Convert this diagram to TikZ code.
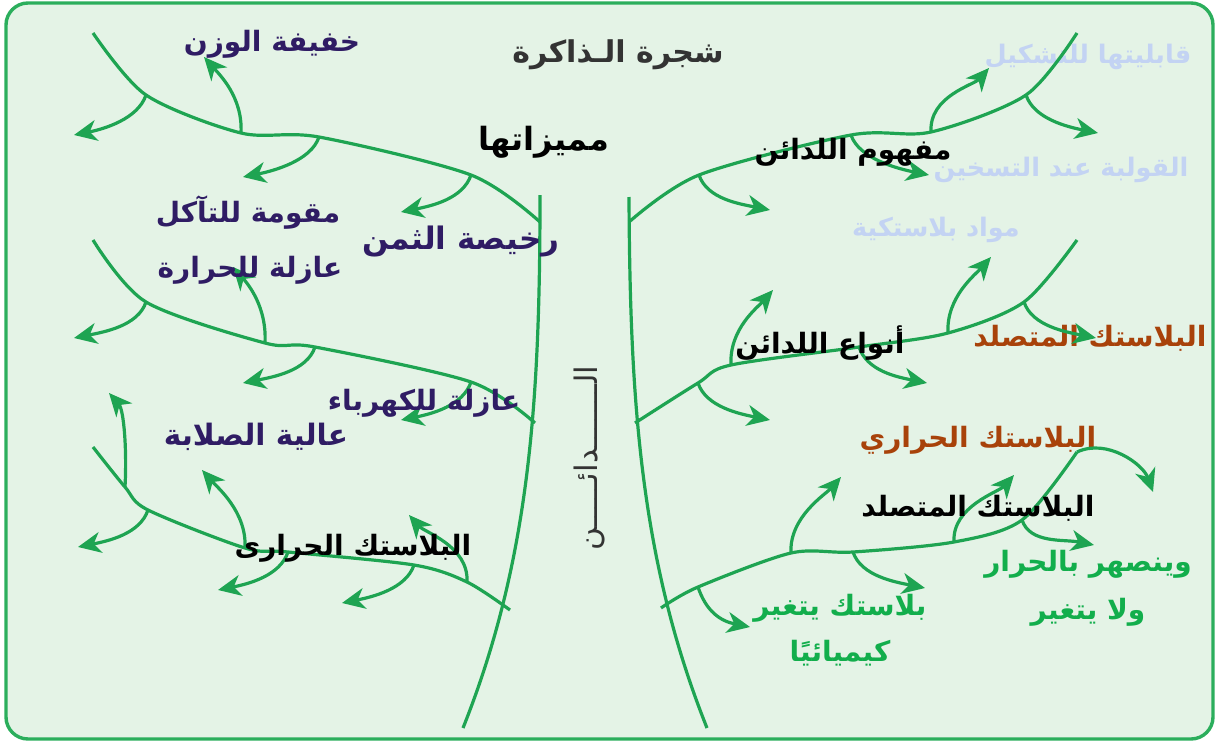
\documentclass[tikz,border=0pt]{standalone}
\usepackage{fontspec}
\newfontfamily\arabicfont[Script=Arabic]{DejaVu Sans}
\TeXXeTstate=1
\usetikzlibrary{arrows.meta}
\definecolor{bgfill}{HTML}{E4F3E6}
\definecolor{framegreen}{HTML}{2BAE5C}
\definecolor{treegreen}{HTML}{1EA452}
\definecolor{purp}{HTML}{2F1C64}
\definecolor{paleblue}{HTML}{C3D3F3}
\definecolor{brownish}{HTML}{A8420A}
\definecolor{leafgreen}{HTML}{12AE4C}
\definecolor{titlegrey}{HTML}{333333}
\newcommand{\ar}[1]{\beginR #1\endR}

\begin{document}
\begin{tikzpicture}[x=1pt,y=-1pt,
branch/.style={draw=treegreen,line width=3.2pt},
twig/.style={draw=treegreen,line width=3.2pt,-{Stealth[length=23pt,width=21pt,inset=7pt]}},
txt/.style={font=\arabicfont\bfseries\fontsize{28}{30}\selectfont,inner sep=0pt},
smalltxt/.style={txt,font=\arabicfont\bfseries\fontsize{25.5}{28}\selectfont},
trunktxt/.style={font=\arabicfont\fontsize{31}{33}\selectfont,inner sep=0pt,text=titlegrey,rotate=90}]

\useasboundingbox (0,0) rectangle (1219,742);
\path[fill=bgfill,draw=framegreen,line width=3.4pt,rounded corners=22pt] (6,3) rectangle (1213,739);

% texts under the tree
\node[smalltxt,text=paleblue] (shape) at (1088,57) {\ar{قابليتها للتشكيل}};
\node[smalltxt,text=paleblue] (mould) at (1061,170) {\ar{القولبة عند التسخين}};
\node[smalltxt,text=paleblue] (plast) at (936,230) {\ar{مواد بلاستكية}};
\node[txt,text=brownish] (setbr) at (1090,338) {\ar{البلاستك المتصلد}};
\node[txt,text=brownish] (thbr) at (978,440) {\ar{البلاستك الحراري}};
\node[txt,text=leafgreen] (melt) at (1088,564) {\ar{وينصهر بالحرار}};
\node[txt,text=leafgreen] (nochg) at (1088,612) {\ar{ولا يتغير}};
\node[txt,text=leafgreen] (chema) at (840,608) {\ar{بلاستك يتغير}};
\node[txt,text=leafgreen] (chemb) at (840,653) {\ar{كيميائيًا}};

% trunk
\coordinate (lt0) at (540,195); \coordinate (lt1) at (463,728);
\coordinate (rt0) at (629,197); \coordinate (rt1) at (707,728);
\draw[branch] (lt0) .. controls (540,400) and (530,560) .. (lt1);
\draw[branch] (rt0) .. controls (630,400) and (640,560) .. (rt1);

% branch points
\coordinate (a0) at (93,33);   \coordinate (a1) at (146,95);  \coordinate (a2) at (241,133);
\coordinate (a3) at (319,137); \coordinate (a4) at (471,175); \coordinate (a5) at (540,222);
\coordinate (b0) at (93,240);  \coordinate (b1) at (146,302); \coordinate (b2) at (265,343);
\coordinate (b3) at (315,347); \coordinate (b4) at (471,382); \coordinate (b5) at (535,423);
\coordinate (c0) at (93,447);  \coordinate (c1) at (125,487); \coordinate (c2) at (148,510);
\coordinate (c3) at (245,548); \coordinate (c4) at (288,552); \coordinate (c5) at (414,565);
\coordinate (c6) at (467,582); \coordinate (c7) at (510,610);
\coordinate (d0) at (629,222); \coordinate (d1) at (699,175); \coordinate (d2) at (851,135);
\coordinate (d3) at (931,132); \coordinate (d4) at (1026,95); \coordinate (d5) at (1077,33);
\coordinate (e0) at (635,423); \coordinate (e1) at (698,383); \coordinate (e2) at (731,365);
\coordinate (e3) at (859,347); \coordinate (e4) at (948,333); \coordinate (e5) at (1024,302);
\coordinate (e6) at (1077,240);
\coordinate (f0) at (661,608); \coordinate (f1) at (698,587); \coordinate (f2) at (791,553);
\coordinate (f3) at (853,552); \coordinate (f4) at (954,542); \coordinate (f5) at (1022,520);
\coordinate (f6) at (1077,452);

% arrow tips
\coordinate (ta1) at (74,135);  \coordinate (ta2) at (204,57);  \coordinate (ta3) at (243,177);
\coordinate (ta4) at (401,212);
\coordinate (tb1) at (74,338);  \coordinate (tb2) at (233,267); \coordinate (tb3) at (243,383);
\coordinate (tb4) at (401,420);
\coordinate (tc1) at (109,393); \coordinate (tc2) at (78,547);  \coordinate (tc3) at (202,470);
\coordinate (tc4) at (218,590); \coordinate (tc5) at (342,603); \coordinate (tc6) at (409,515);
\coordinate (td1) at (770,210); \coordinate (td2) at (929,175); \coordinate (td3) at (989,68);
\coordinate (td4) at (1098,133);
\coordinate (te1) at (770,420); \coordinate (te2) at (773,290); \coordinate (te3) at (927,383);
\coordinate (te4) at (991,257); \coordinate (te5) at (1096,338);
\coordinate (tf1) at (750,627); \coordinate (tf2) at (841,477); \coordinate (tf3) at (925,588);
\coordinate (tf4) at (1014,475); \coordinate (tf5) at (1094,545); \coordinate (tf6) at (1153,492);

\draw[branch] plot[smooth] coordinates {(a0) (a1) (a2) (a3) (a4) (a5)};
\draw[branch] plot[smooth] coordinates {(b0) (b1) (b2) (b3) (b4) (b5)};
\draw[branch] plot[smooth] coordinates {(c0) (c1) (c2) (c3) (c4) (c5) (c6) (c7)};
\draw[branch] plot[smooth] coordinates {(d0) (d1) (d2) (d3) (d4) (d5)};
\draw[branch] plot[smooth] coordinates {(e0) (e1) (e2) (e3) (e4) (e5) (e6)};
\draw[branch] plot[smooth] coordinates {(f0) (f1) (f2) (f3) (f4) (f5) (f6)};

\foreach \s in {a1,a3,a4,b1,b3,b4,c2,c4,c5}
  \draw[twig] (\s) .. controls +(-8,24) and +(30,-6) .. (t\s);
\foreach \s in {a2,b2,c1,c3,c6}
  \draw[twig] (\s) .. controls +(2,-36) and +(15,17) .. (t\s);
\foreach \s in {d1,d2,d4,e1,e3,e5,f1,f3,f5}
  \draw[twig] (\s) .. controls +(8,24) and +(-30,-6) .. (t\s);
\foreach \s in {d3,e2,e4,f2,f4}
  \draw[twig] (\s) .. controls +(-2,-36) and +(-15,17) .. (t\s);
\draw[twig] (f6) .. controls +(30,-14) and +(-10,-28) .. (tf6);

% texts over the tree
\node[txt,text=titlegrey,font=\arabicfont\bfseries\fontsize{30}{32}\selectfont] (title) at (618,55) {\ar{شجرة الـذاكرة}};
\node[txt,text=purp] (light) at (272,44) {\ar{خفيفة الوزن}};
\node[txt,text=purp] (corr) at (248,213) {\ar{مقومة للتآكل}};
\node[txt,text=purp,font=\arabicfont\bfseries\fontsize{31}{33}\selectfont] (cheap) at (461,242) {\ar{رخيصة الثمن}};
\node[txt,text=purp] (heat) at (250,270) {\ar{عازلة للحرارة}};
\node[txt,text=purp] (elec) at (424,403) {\ar{عازلة للكهرباء}};
\node[txt,text=purp,font=\arabicfont\bfseries\fontsize{29.5}{32}\selectfont] (hard) at (256,437) {\ar{عالية الصلابة}};
\node[txt,font=\arabicfont\bfseries\fontsize{32}{34}\selectfont] (feat) at (544,142) {\ar{مميزاتها}};
\node[txt] (thblk) at (353,548) {\ar{البلاستك الحرارى}};
\node[txt] (concept) at (853,152) {\ar{مفهوم اللدائن}};
\node[txt] (types) at (820,343) {\ar{أنواع اللدائن}};
\node[txt] (setblk) at (978,508) {\ar{البلاستك المتصلد}};
\node[trunktxt] (trunk) at (590,458) {\ar{الـــــــدائـــــن}};
\end{tikzpicture}
\end{document}
